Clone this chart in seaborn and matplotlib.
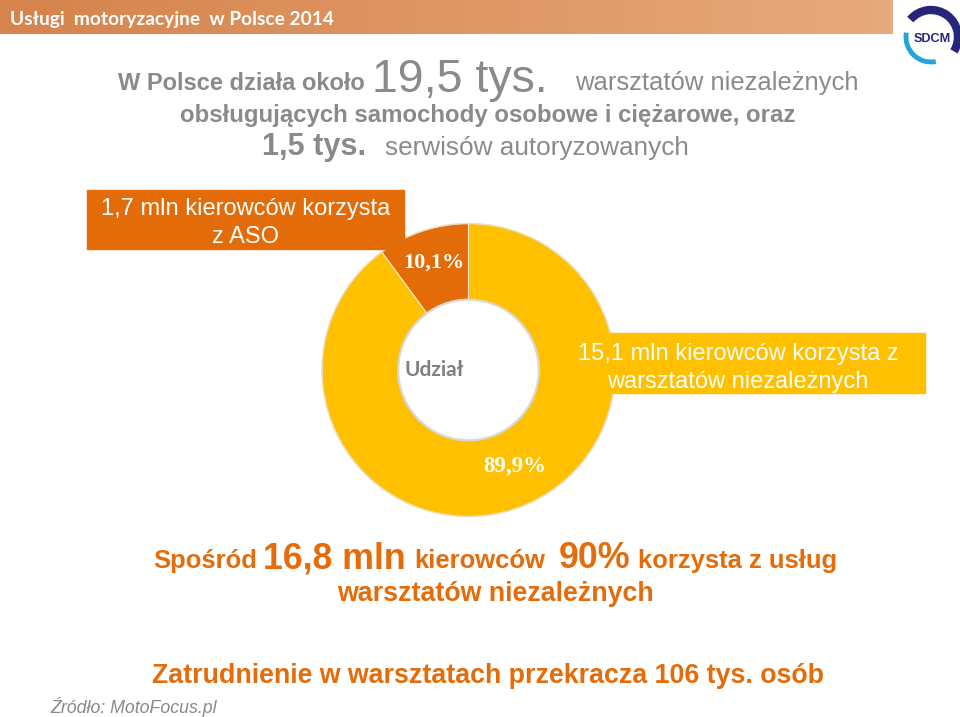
import numpy as np
import matplotlib
matplotlib.use("Agg")
import matplotlib.pyplot as plt
import seaborn as sns
from matplotlib.patches import Rectangle, Arc, Circle

# ---------------- data ----------------
categories = ["ASO", "Warsztaty niezależne"]
shares = [10.1, 89.9]
share_labels = ["10,1%", "89,9%"]
slice_colors = ["#E36C09", "#FFC000"]

header_title = "Usługi  motoryzacyjne  w Polsce 2014"
aso_box_lines = ["1,7 mln kierowców korzysta", "z ASO"]
indep_box_lines = ["15,1 mln kierowców korzysta z", "warsztatów niezależnych"]
center_label = "Udział"
source_text = "Źródło: MotoFocus.pl"

# ---------------- style ----------------
sns.set_theme(style="white")
plt.rcParams['font.family'] = ['Liberation Sans', 'DejaVu Sans']

REG = ['Liberation Sans', 'DejaVu Sans']
GRAY = "#8A8A8A"
ORANGE = "#E46C0A"

W, H = 960, 717
fig = plt.figure(figsize=(W / 100, H / 100), dpi=100)
renderer = fig.canvas.get_renderer()

# background axes in pixel coordinates
bg = fig.add_axes([0, 0, 1, 1], zorder=0)
bg.set_xlim(0, W)
bg.set_ylim(H, 0)
bg.axis("off")

# header bar with gradient
grad = np.linspace(0, 1, 256)
c0 = np.array([214, 131, 76]) / 255
c1 = np.array([231, 170, 124]) / 255
img = (c0[None, :] * (1 - grad[:, None]) + c1[None, :] * grad[:, None])[None, :, :]
bg.imshow(img, extent=[0, 893, 34, 0], aspect="auto", zorder=0)


def fit(ax, x0, x1, y, s, weight="normal", color=GRAY, fam=REG, style="normal", base=20.0):
    t = ax.text(x0, y, s, fontsize=base, fontweight=weight, color=color, family=fam,
                style=style, ha="left", va="baseline", zorder=3)
    w = t.get_window_extent(renderer=renderer).width
    t.set_fontsize(base * (x1 - x0) / w)
    return t


def row(ax, x0, x1, y, pieces, gaps, color, base=20.0):
    texts, widths = [], []
    for s, rel, weight in pieces:
        t = ax.text(0, y, s, fontsize=base * rel, fontweight=weight, color=color,
                    family=REG, ha="left", va="baseline", zorder=3)
        texts.append(t)
        widths.append(t.get_window_extent(renderer=renderer).width)
    k = ((x1 - x0) - sum(gaps)) / sum(widths)
    x = x0
    for i, (t, w, (s, rel, weight)) in enumerate(zip(texts, widths, pieces)):
        t.set_fontsize(base * rel * k)
        t.set_x(x)
        x += w * k + (gaps[i] if i < len(gaps) else 0)


fit(bg, 10, 333, 25, header_title, "bold", "white", ['Lato', 'DejaVu Sans'])

# logo (SDCM)
lx, ly = 931, 37
bg.add_patch(Arc((lx, ly), 54, 54, theta1=-140, theta2=32, color="#27257A", lw=6))
bg.add_patch(Arc((lx, ly), 50, 50, theta1=79, theta2=190, color="#29A3DD", lw=3.5))
fit(bg, 914, 951, 42, "SDCM", "bold", "#27257A", REG)

# headline text (gray)
fit(bg, 118, 365, 90, "W Polsce działa około", "bold")
fit(bg, 372, 548, 92, "19,5 tys.", "normal")
fit(bg, 575, 857, 90, "warsztatów niezależnych", "normal")
fit(bg, 180, 795, 122, "obsługujących samochody osobowe i ciężarowe, oraz", "bold")
fit(bg, 262, 366, 155, "1,5 tys.", "bold")
fit(bg, 385, 688, 155, "serwisów autoryzowanych", "normal")

# bottom text (orange)
row(bg, 153, 837, 568,
    [("Spośród", 1.0, "bold"), ("16,8 mln", 1.4, "bold"), ("kierowców", 1.0, "bold"),
     ("90%", 1.4, "bold"), ("korzysta z usług", 1.0, "bold")],
    [6, 8, 14, 8], ORANGE)
fit(bg, 337, 653, 601, "warsztatów niezależnych", "bold", ORANGE)
fit(bg, 152, 823, 683, "Zatrudnienie w warsztatach przekracza 106 tys. osób", "bold", ORANGE)
fit(bg, 50, 216, 713, source_text, "normal", GRAY, REG, "italic")

# donut
cx, cy, R = 468.5, 370, 146.5
half = 152
ax = fig.add_axes([(cx - half) / W, 1 - (cy + half) / H, 2 * half / W, 2 * half / H], zorder=1)
wedges, _ = ax.pie(shares, colors=slice_colors, startangle=90, counterclock=True,
                   radius=1.0, wedgeprops=dict(width=0.52, edgecolor="#F7EBD0", linewidth=0.8))
ax.add_patch(Circle((0, 0), 0.48, fill=False, edgecolor="#D8D8D8", lw=1.6, zorder=5))
ax.add_patch(Circle((0, 0), 1.0, fill=False, edgecolor="#E9DDBF", lw=1.0, zorder=5))
ax.set_xlim(-half / R, half / R)
ax.set_ylim(-half / R, half / R)
ax.set_aspect("equal")
ax.axis("off")
ax.patch.set_alpha(0)


def lab(xp, yp, s, size):
    ax.text((xp - cx) / R, -(yp - cy) / R, s, color="white", fontsize=size,
            fontweight="bold", family=['Liberation Serif', 'DejaVu Serif'],
            ha="center", va="center", zorder=6)


lab(434, 263, share_labels[0], 16)
lab(515, 466, share_labels[1], 16.5)
ax.text((434 - cx) / R, 0, center_label, color="#7F7F7F", fontsize=15, fontweight="bold",
        family=['Lato', 'DejaVu Sans'], ha="center", va="center", zorder=6)

# overlay boxes (drawn above the donut)
fg = fig.add_axes([0, 0, 1, 1], zorder=2)
fg.set_xlim(0, W)
fg.set_ylim(H, 0)
fg.axis("off")
fg.patch.set_alpha(0)

fg.add_patch(Rectangle((87, 190), 317, 59, color=slice_colors[0], zorder=1))
fg.text(246, 215, aso_box_lines[0], color="white", fontsize=17, family=REG,
        ha="center", va="baseline", zorder=2)
fg.text(246, 243, aso_box_lines[1], color="white", fontsize=17, family=REG,
        ha="center", va="baseline", zorder=2)
fg.add_patch(Rectangle((555, 333), 370, 60, color=slice_colors[1], zorder=1))
fg.text(738, 360, indep_box_lines[0], color="white", fontsize=17, family=REG,
        ha="center", va="baseline", zorder=2)
fg.text(738, 388, indep_box_lines[1], color="white", fontsize=17, family=REG,
        ha="center", va="baseline", zorder=2)

fig.savefig("out.png", dpi=100)
